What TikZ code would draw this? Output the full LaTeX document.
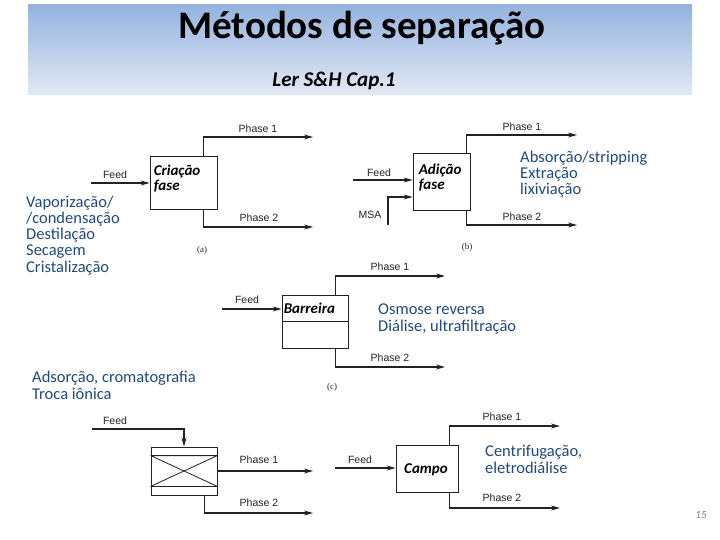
\documentclass[tikz,border=0pt]{standalone}
\usepackage{fontspec}
\setmainfont{Carlito}
\newfontfamily\labfont{Liberation Sans}
\newfontfamily\capfont{Liberation Serif}
\usetikzlibrary{arrows.meta, positioning, calc}
\definecolor{bantop}{HTML}{95B3DF}
\definecolor{banbot}{HTML}{E2E9F5}
\definecolor{methblue}{HTML}{1F497D}
\definecolor{linegray}{HTML}{222222}
\tikzset{
  unitbox/.style  = {draw=linegray, fill=white, line width=0.8pt, inner sep=0pt},
  boxtext/.style  = {font=\fontsize{15}{15}\selectfont\bfseries\itshape, align=left,
                     anchor=north west, inner sep=0pt},
  streamlab/.style = {font=\labfont\fontsize{10.5}{10.5}\selectfont, text=linegray, inner sep=1pt},
  partlab/.style  = {font=\capfont\fontsize{9}{9}\selectfont, text=linegray, inner sep=0pt},
  methods/.style  = {font=\fontsize{16.5}{16.2}\selectfont, text=methblue, align=left,
                     anchor=base west, inner sep=0pt},
  flow/.style     = {-{Stealth[length=9pt, width=5pt, inset=3pt]}, line width=1.1pt, draw=linegray},
}

\begin{document}
\begin{tikzpicture}[x=1pt, y=-1pt]
  \useasboundingbox (0,0) rectangle (720,540);

  % title banner
  \shade[top color=bantop, bottom color=banbot] (28,5) rectangle (692,95);
  \node[font=\fontsize{39}{39}\selectfont\bfseries, anchor=base, inner sep=0pt] (title) at (362,39) {Métodos de separação};
  \node[font=\fontsize{21}{21}\selectfont\bfseries\itshape, anchor=base, inner sep=0pt] (read) at (334,87) {Ler S\&H Cap.1};

  % (a) phase creation
  \node[unitbox, minimum width=67pt, minimum height=53pt] (cria) at (183.5,182.5) {};
  \node[boxtext] (criatxt) at ([xshift=4pt, yshift=-9pt]cria.north west) {Criação\\fase};
  \coordinate (afeed) at (91,183);
  \coordinate (aph1) at (313,137);
  \coordinate (aph2) at (313,227);
  \draw[flow] (afeed) -- (afeed -| cria.west);
  \draw[flow] ([xshift=-14pt]cria.north east) |- (aph1);
  \draw[flow] ([xshift=-14pt]cria.south east) |- (aph2);
  \node[streamlab] (afeedlab) at (115,175) {Feed};
  \node[streamlab] (aph1lab) at (258,129) {Phase 1};
  \node[streamlab] (aph2lab) at (259,218) {Phase 2};
  \node[partlab] (acap) at (202,250) {(a)};
  \node[methods] (ameth) at (26,272) {Vaporização/\\/condensação\\Destilação\\Secagem\\Cristalização};

  % (b) phase addition
  \node[unitbox, minimum width=57pt, minimum height=57pt] (adic) at (441.5,181.5) {};
  \node[boxtext] (adictxt) at ([xshift=6pt, yshift=-11pt]adic.north west) {Adição\\fase};
  \coordinate (bfeed) at (353,180);
  \coordinate (bmsa) at (388,225);
  \coordinate (bph1) at (577,135);
  \coordinate (bph2) at (577,225);
  \draw[flow] (bfeed) -- (bfeed -| adic.west);
  \draw[flow] (bmsa) |- ([yshift=-15.5pt]adic.west);
  \draw[flow] ([xshift=-4pt]adic.north east) |- (bph1);
  \draw[flow] ([xshift=-4pt]adic.south east) |- (bph2);
  \node[streamlab] (bfeedlab) at (379,173) {Feed};
  \node[streamlab] (bmsalab) at (370,215) {MSA};
  \node[streamlab] (bph1lab) at (522,127) {Phase 1};
  \node[streamlab] (bph2lab) at (522,217) {Phase 2};
  \node[partlab] (bcap) at (467,247) {(b)};
  \node[methods] (bmeth) at (520,195) {Absorção/stripping\\Extração\\lixiviação};

  % (c) barrier
  \node[unitbox, minimum width=66pt, minimum height=53pt] (barr) at (315,321.5) {};
  \draw[line width=0.8pt, draw=linegray] (barr.west) -- (barr.east);
  \node[boxtext, anchor=west] (barrtxt) at ([xshift=2pt, yshift=-13.5pt]barr.north west) {Barreira};
  \coordinate (cfeed) at (222,309);
  \coordinate (cph1) at (445,276);
  \coordinate (cph2) at (445,367);
  \draw[flow] (cfeed) -- (cfeed -| barr.west);
  \draw[flow] ([xshift=-13pt]barr.north east) |- (cph1);
  \draw[flow] ([xshift=-13pt]barr.south east) |- (cph2);
  \node[streamlab] (cfeedlab) at (247,300) {Feed};
  \node[streamlab] (cph1lab) at (390,267) {Phase 1};
  \node[streamlab] (cph2lab) at (390,358) {Phase 2};
  \node[partlab] (ccap) at (332,387) {(c)};
  \node[methods] (cmeth) at (378,331) {Osmose reversa\\Diálise, ultrafiltração};

  % (d) solid agent
  \node[unitbox, minimum width=66pt, minimum height=48pt] (chrom) at (184,471) {};
  \draw[line width=0.8pt, draw=linegray]
    ([yshift=-9pt]chrom.north west) -- ([yshift=-9pt]chrom.north east)
    ([yshift=9pt]chrom.south west) -- ([yshift=9pt]chrom.south east)
    ([yshift=-9pt]chrom.north west) -- ([yshift=9pt]chrom.south east)
    ([yshift=9pt]chrom.south west) -- ([yshift=-9pt]chrom.north east);
  \coordinate (dfeed) at (92,429);
  \coordinate (dph1) at (313,471);
  \coordinate (dph2) at (313,513);
  \draw[flow] (dfeed) -| (chrom.north);
  \draw[flow] (chrom.east) -- (dph1);
  \draw[flow] ([xshift=-13pt]chrom.south east) |- (dph2);
  \node[streamlab] (dfeedlab) at (115,421) {Feed};
  \node[streamlab] (dph1lab) at (259,460) {Phase 1};
  \node[streamlab] (dph2lab) at (259,503) {Phase 2};
  \node[methods] (dmeth) at (32,399) {Adsorção, cromatografia\\Troca iônica};

  % (e) force field
  \node[unitbox, minimum width=62pt, minimum height=47pt] (campo) at (427,468.5) {};
  \node[boxtext, anchor=center] (campotxt) at ([xshift=-1pt, yshift=-1pt]campo.center) {Campo};
  \coordinate (efeed) at (335,468);
  \coordinate (eph1) at (560,426);
  \coordinate (eph2) at (560,508);
  \draw[flow] (efeed) -- (efeed -| campo.west);
  \draw[flow] ([xshift=-9pt]campo.north east) |- (eph1);
  \draw[flow] ([xshift=-9pt]campo.south east) |- (eph2);
  \node[streamlab] (efeedlab) at (360,460) {Feed};
  \node[streamlab] (eph1lab) at (502,417) {Phase 1};
  \node[streamlab] (eph2lab) at (502,498) {Phase 2};
  \node[methods] (emeth) at (485,473) {Centrifugação,\\eletrodiálise};

  \node[font=\fontsize{11}{11}\selectfont\itshape, text=gray, anchor=base, inner sep=0pt] (pgno) at (701,518) {15};
\end{tikzpicture}
\end{document}
